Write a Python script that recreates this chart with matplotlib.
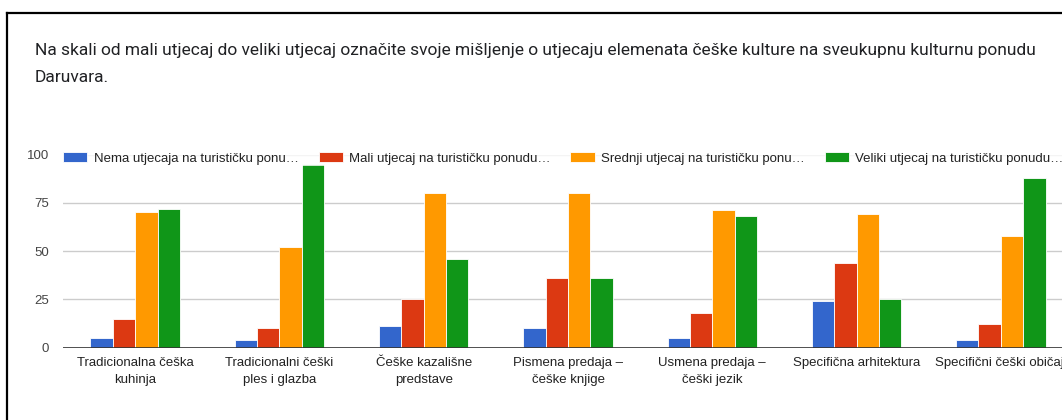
import numpy as np
import matplotlib.pyplot as plt
from matplotlib.lines import Line2D

categories = ['Tradicionalna češka\nkuhinja', 'Tradicionalni češki\nples i glazba',
              'Češke kazališne\npredstave', 'Pismena predaja –\nčeške knjige',
              'Usmena predaja –\nčeški jezik', 'Specifična arhitektura',
              'Specifični češki običaji']
series_names = ['Nema utjecaja na turističku ponu…', 'Mali utjecaj na turističku ponudu…',
                'Srednji utjecaj na turističku ponu…', 'Veliki utjecaj na turističku ponudu…']
nema = [5, 4, 11, 10, 5, 24, 4]
mali = [15, 10, 25, 36, 18, 44, 12]
srednji = [70, 52, 80, 80, 71, 69, 58]
veliki = [72, 95, 46, 36, 68, 25, 88]
colors = ['#3366cc', '#dc3912', '#ff9900', '#109618']

title_lines = ['Na skali od mali utjecaj do veliki utjecaj označite svoje mišljenje o utjecaju '
               'elemenata češke kulture na sveukupnu kulturnu ponudu', 'Daruvara.']

fig = plt.figure(figsize=(10.62, 4.2), dpi=100)

# frame around the card (left and top edges only are visible)
fig.add_artist(Line2D([6.5/1062, 6.5/1062], [0, 1 - 12.5/420], color='black', lw=1.6))
fig.add_artist(Line2D([6.5/1062, 1], [1 - 12.5/420, 1 - 12.5/420], color='black', lw=1.6))

for k, line in enumerate(title_lines):
    fig.text(35/1062, 1 - (51 + 26*k)/420, line, fontsize=12.5, family='Roboto',
             color='#202124', va='center', ha='left')

# axes spills over the right edge like in the screenshot
ax = fig.add_axes([63/1062, (420-347.5)/420, 1010/1062, 193/420])
x = np.arange(len(categories))
w = 0.155
for i, vals in enumerate([nema, mali, srednji, veliki]):
    ax.bar(x + (i - 1.5) * w, vals, width=w, color=colors[i], edgecolor='white',
           linewidth=0.6, label=series_names[i], zorder=3)

ax.set_xlim(-0.5, len(categories) - 0.5)
ax.set_ylim(0, 100)
ax.set_yticks([0, 25, 50, 75, 100])
ax.yaxis.grid(True, color='#cccccc', linewidth=1, zorder=0)
ax.axhline(0, color='#333333', linewidth=1.2, zorder=4)
for s in ax.spines.values():
    s.set_visible(False)
ax.tick_params(axis='both', length=0, labelsize=9.5, labelcolor='#444444')
ax.tick_params(axis='y', pad=10)
ax.set_xticks(x)
ax.set_xticklabels(categories, fontsize=9.5, color='#222222', linespacing=1.5,
                   family='Liberation Sans')
ax.tick_params(axis='x', pad=7)
for t in ax.get_yticklabels():
    t.set_family('Liberation Sans')

leg = ax.legend(ncol=4, loc='center left', bbox_to_anchor=(-0.001, 0.98), frameon=True,
                facecolor='white', edgecolor='none', fancybox=False,
                handlelength=1.82, handleheight=0.75, handletextpad=0.5, columnspacing=1.5,
                borderpad=0.1, borderaxespad=0,
                prop={'family': 'Liberation Sans', 'size': 9.5})
for t in leg.get_texts():
    t.set_color('#222222')
leg.set_zorder(5)

fig.savefig('out.png', dpi=100)
